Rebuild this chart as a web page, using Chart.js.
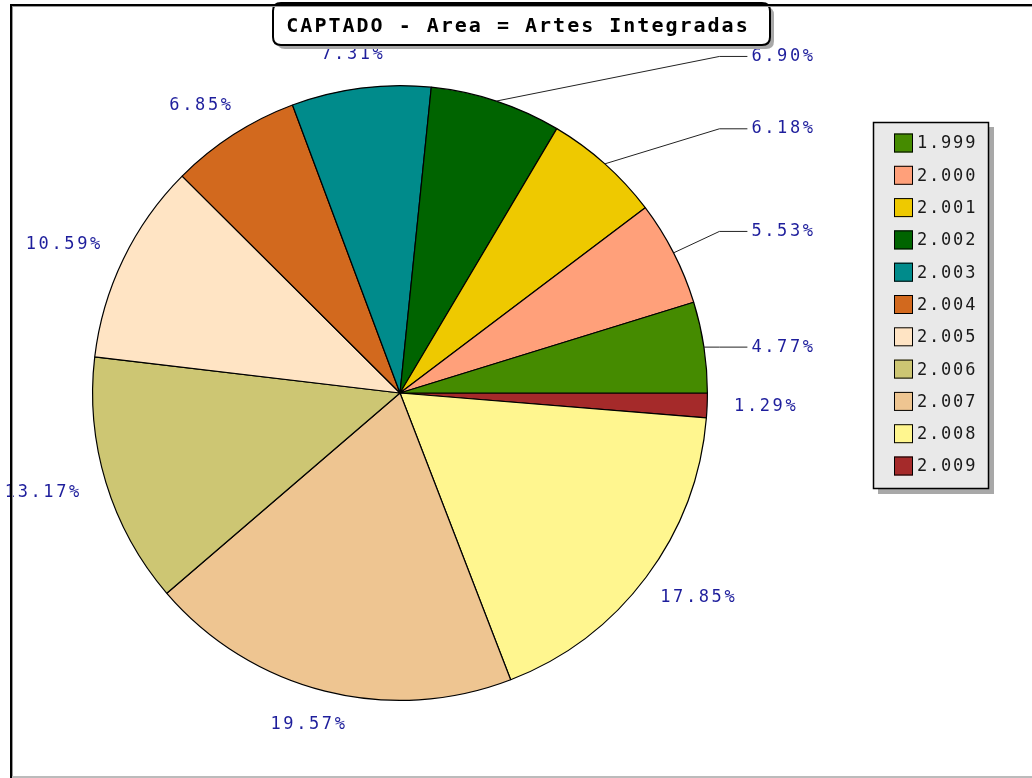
<!DOCTYPE html>
<html>
<head>
<meta charset="utf-8">
<script src="https://cdn.jsdelivr.net/npm/chart.js@4"></script>
<style>
  html, body { margin: 0; padding: 0; background: #fff; }
  canvas { display: block; }
</style>
</head>
<body>
<canvas id="pie" width="1032" height="778"></canvas>
<script>
// ===== Dados =====
const titleText = "CAPTADO - Area = Artes Integradas";
const years = ["1.999", "2.000", "2.001", "2.002", "2.003", "2.004", "2.005", "2.006", "2.007", "2.008", "2.009"];
const shares = [4.77, 5.53, 6.18, 6.90, 7.31, 6.85, 10.59, 13.17, 19.57, 17.85, 1.29];
const colors = ["#458b00", "#ffa07a", "#eec900", "#006400", "#008b8b", "#d2691e",
                "#ffe4c4", "#cdc673", "#eec591", "#fff68f", "#a52a2a"];

// o grafico original gira no sentido anti-horario, o Chart.js no horario
const revShares = shares.slice().reverse();
const revColors = colors.slice().reverse();
const revYears = years.slice().reverse();

function roundRect(ctx, x, y, w, h, r) {
  ctx.beginPath();
  ctx.moveTo(x + r, y);
  ctx.lineTo(x + w - r, y);
  ctx.quadraticCurveTo(x + w, y, x + w, y + r);
  ctx.lineTo(x + w, y + h - r);
  ctx.quadraticCurveTo(x + w, y + h, x + w - r, y + h);
  ctx.lineTo(x + r, y + h);
  ctx.quadraticCurveTo(x, y + h, x, y + h - r);
  ctx.lineTo(x, y + r);
  ctx.quadraticCurveTo(x, y, x + r, y);
  ctx.closePath();
}

// ===== Rotulos, titulo, legenda e moldura =====
const decor = {
  id: "decor",
  afterDraw(chart) {
    const ctx = chart.ctx;
    const arcs = chart.getDatasetMeta(0).data;

    // rotulos de percentual
    ctx.save();
    ctx.font = "17px 'DejaVu Sans Mono'";
    ctx.letterSpacing = "2.6px";
    ctx.fillStyle = "#1e1e9c";
    ctx.textBaseline = "middle";
    const guideY = [];
    arcs.forEach((arc, j) => {
      const cx = arc.x, cy = arc.y, r = arc.outerRadius;
      const mid = (arc.startAngle + arc.endAngle) / 2;
      let a = -mid;
      while (a < 0) a += Math.PI * 2;
      while (a >= Math.PI * 2) a -= Math.PI * 2;
      const txt = revShares[j].toFixed(2) + "%";
      const w = ctx.measureText(txt).width;
      const h = 14;
      if (a > 0.05 && a < Math.PI / 2) {
        // com linha guia
        let y = cy - (r + 47) * Math.sin(a);
        if (a < 0.3) y = cy - r * Math.sin(a);
        ctx.strokeStyle = "#222";
        ctx.lineWidth = 1;
        ctx.beginPath();
        ctx.moveTo(cx + r * Math.cos(a), cy - r * Math.sin(a));
        ctx.lineTo(cx + r + 12, y);
        ctx.lineTo(cx + r + 40, y);
        ctx.stroke();
        ctx.textAlign = "left";
        ctx.fillText(txt, cx + r + 44, y);
      } else {
        const R = r + 27;
        const px = cx + R * Math.cos(a), py = cy - R * Math.sin(a);
        const tx = px + (w / 2) * Math.cos(a);
        const ty = py - (h / 2) * Math.sin(a);
        ctx.textAlign = "center";
        ctx.fillText(txt, tx, ty);
      }
    });
    ctx.restore();

    // caixa do titulo
    ctx.save();
    ctx.fillStyle = "#a8a8a8";
    roundRect(ctx, 277, 7, 497, 42, 8);
    ctx.fill();
    ctx.fillStyle = "#fff";
    roundRect(ctx, 273, 3, 497, 42, 8);
    ctx.fill();
    ctx.strokeStyle = "#000";
    ctx.lineWidth = 2;
    ctx.stroke();
    ctx.font = "bold 20px 'DejaVu Sans Mono'";
    ctx.letterSpacing = "2px";
    ctx.fillStyle = "#000";
    ctx.textAlign = "center";
    ctx.textBaseline = "middle";
    ctx.fillText(titleText, 518, 27);
    ctx.restore();

    // legenda
    ctx.save();
    ctx.fillStyle = "#a8a8a8";
    ctx.fillRect(878, 127, 116, 367);
    ctx.fillStyle = "#e9e9e9";
    ctx.fillRect(873, 122, 116, 367);
    ctx.strokeStyle = "#000";
    ctx.lineWidth = 1.5;
    ctx.strokeRect(873.5, 122.5, 115, 366);
    ctx.font = "17px 'DejaVu Sans Mono'";
    ctx.letterSpacing = "1.8px";
    ctx.textAlign = "left";
    ctx.textBaseline = "middle";
    years.forEach((yr, i) => {
      const y = 143 + i * 32.3;
      ctx.fillStyle = colors[i];
      ctx.fillRect(894, y - 9.5, 19, 19);
      ctx.strokeStyle = "#000";
      ctx.lineWidth = 1;
      ctx.strokeRect(894.5, y - 9, 18, 18);
      ctx.fillStyle = "#1a1a1a";
      ctx.fillText(yr, 917, y + 1);
    });
    ctx.restore();

    // moldura
    ctx.save();
    ctx.fillStyle = "#000";
    ctx.fillRect(10, 4, 1022, 2);
    ctx.fillRect(10, 4, 2, 774);
    ctx.fillStyle = "#999";
    ctx.fillRect(12, 6, 1020, 1);
    ctx.fillRect(12, 6, 1, 772);
    ctx.fillStyle = "#bbb";
    ctx.fillRect(12, 776, 1020, 2);
    ctx.restore();
  }
};

new Chart(document.getElementById("pie"), {
  type: "pie",
  data: {
    labels: revYears,
    datasets: [{
      data: revShares,
      backgroundColor: revColors,
      borderColor: "#000",
      borderWidth: 1.2
    }]
  },
  options: {
    responsive: false,
    animation: false,
    rotation: 90,
    layout: { padding: { left: 92, right: 324, top: 85, bottom: 77 } },
    plugins: {
      legend: { display: false },
      tooltip: { enabled: false },
      title: { display: false }
    }
  },
  plugins: [decor]
});
</script>
</body>
</html>
